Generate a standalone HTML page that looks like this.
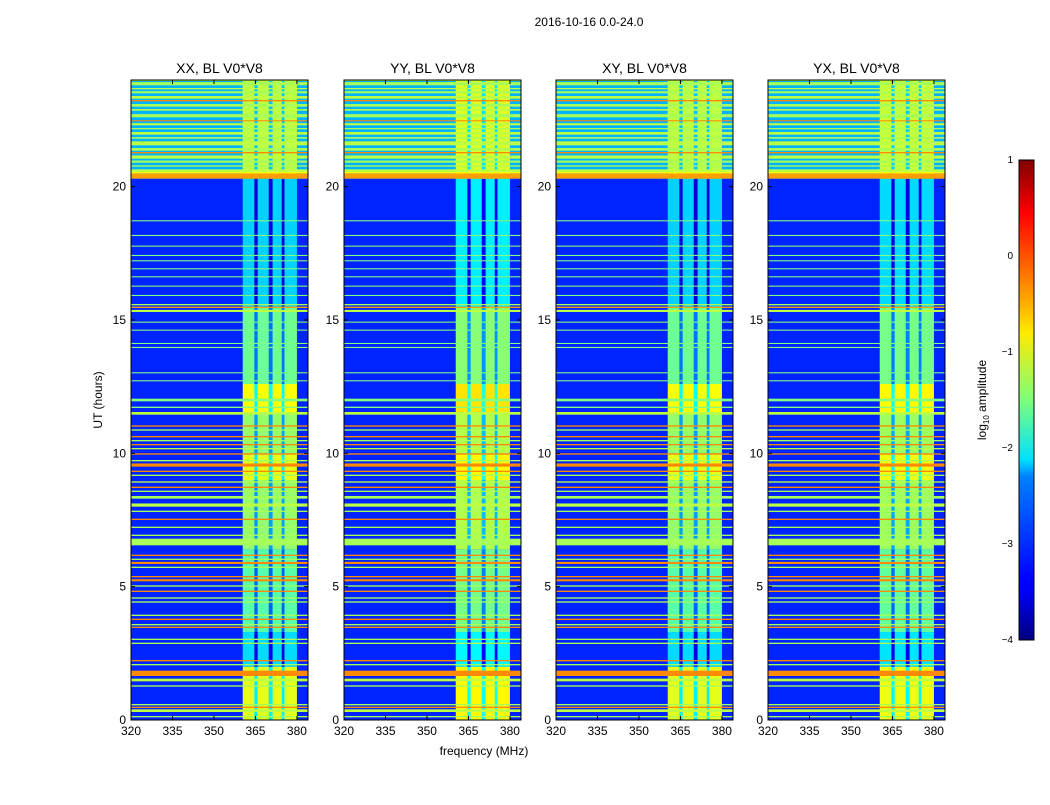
<!DOCTYPE html>
<html><head><meta charset="utf-8"><style>
body{margin:0;background:#fff;font-family:"Liberation Sans",sans-serif}
svg text{font-family:"Liberation Sans",sans-serif}
</style></head><body>
<svg id="fig" width="1050" height="800" viewBox="0 0 1050 800" xmlns="http://www.w3.org/2000/svg">
<text x="589" y="26" font-size="12" text-anchor="middle">2016-10-16 0.0-24.0</text>
<text x="484" y="755" font-size="12" text-anchor="middle">frequency (MHz)</text>
<text transform="translate(102,400) rotate(-90)" font-size="12" text-anchor="middle">UT (hours)</text>
<defs><linearGradient id="jet" x1="0" y1="1" x2="0" y2="0">
<stop offset="0" stop-color="#000080"/><stop offset="0.11" stop-color="#0000ff"/><stop offset="0.125" stop-color="#0000ff"/><stop offset="0.34" stop-color="#0080ff"/><stop offset="0.375" stop-color="#00e0ff"/><stop offset="0.5" stop-color="#7dff7a"/><stop offset="0.64" stop-color="#ffea00"/><stop offset="0.75" stop-color="#ff8000"/><stop offset="0.89" stop-color="#ff0000"/><stop offset="1" stop-color="#800000"/></linearGradient></defs>
<g id="panels"></g>
<rect x="1019" y="160" width="15" height="480" fill="url(#jet)" stroke="#000" stroke-width="1"/>
<g id="cbticks" font-size="10"></g>
<text transform="translate(986,400) rotate(-90)" font-size="12" text-anchor="middle">log<tspan font-size="8" dy="3">10</tspan><tspan dy="-3"> amplitude</tspan></text>
</svg>
<script>
const panelTitles=["XX, BL V0*V8","YY, BL V0*V8","XY, BL V0*V8","YX, BL V0*V8"];
const panelBandOffset=[0,0.15,0,0.05];
const xTicks=[320,335,350,365,380];
const yTicks=[0,5,10,15,20];
const cbTicks=[1,0,-1,-2,-3,-4];
const baseValue=-3.2;
const topRegion=[20.3,24,-2.5];
const bandFreq=[360.4,380];
const bandGaps=[[364.6,365.8],[369.8,371.2],[374.5,375.5]];
const bandSegT0=[0,2.0,3.3,6.4,9.0,10.0,11.5,12.6,15.5,20.3];
const bandSegT1=[2.0,3.3,6.4,9.0,10.0,11.5,12.6,15.5,20.3,24];
const bandSegV=[-1.0,-2.3,-1.7,-1.4,-1.0,-1.4,-0.9,-1.6,-2.35,-1.2];
const lineT=[20.3,20.5,20.55,20.75,20.9,21.05,21.25,21.35,21.55,21.8,21.95,22.15,22.3,22.45,22.6,22.85,23.0,23.2,23.3,23.5,23.65,23.8,23.97,
18.7,18.15,17.75,17.4,17.2,16.9,16.6,16.25,15.9,15.3,15.45,15.55,14.9,14.6,14.1,13.95,13.0,12.7,11.95,11.7,11.45,
11.0,10.85,10.6,10.45,10.3,10.15,9.95,9.7,9.5,9.3,9.15,8.9,8.7,8.55,8.3,8.0,7.8,7.5,7.2,6.9,6.55,6.15,6.0,5.85,5.7,5.35,5.2,5.0,4.8,4.55,4.4,3.9,3.75,3.55,3.45,3.0,2.85,2.2,2.05,1.65,1.45,1.25,0.55,0.45,0.3,0.1];
const lineDT=[0.2,0.08,0.1,0.05,0.08,0.12,0.05,0.1,0.15,0.06,0.1,0.05,0.08,0.04,0.12,0.06,0.1,0.05,0.1,0.08,0.05,0.12,0.03,
0.04,0.04,0.04,0.04,0.04,0.04,0.04,0.04,0.04,0.08,0.05,0.05,0.04,0.04,0.04,0.04,0.04,0.04,0.1,0.05,0.1,
0.05,0.05,0.05,0.05,0.05,0.05,0.05,0.05,0.12,0.05,0.05,0.05,0.05,0.05,0.1,0.12,0.05,0.05,0.05,0.05,0.25,0.05,0.05,0.08,0.05,0.05,0.08,0.05,0.05,0.05,0.05,0.05,0.05,0.05,0.05,0.05,0.05,0.05,0.05,0.2,0.1,0.05,0.05,0.05,0.1,0.05];
const lineV=[-0.4,-0.9,-1.2,-1.3,-1.3,-1.2,-0.3,-1.3,-1.2,-1.3,-1.2,-1.3,-1.2,-0.3,-1.3,-1.2,-1.3,-0.3,-1.2,-1.3,-1.2,-1.3,-1.2,
-1.5,-1.5,-1.5,-1.5,-1.5,-1.5,-1.5,-1.5,-1.5,-1.2,-0.4,-1.3,-1.5,-1.5,-1.5,-1.5,-1.5,-1.5,-1.5,-1.5,-1.2,
-0.3,-1.3,-0.3,-1.3,-0.3,-1.2,-0.3,-1.3,-0.3,-0.3,-1.3,-1.2,-0.3,-1.3,-1.3,-1.2,-1.3,-0.3,-1.3,-1.3,-1.3,-0.3,-1.3,-0.3,-1.3,-0.3,-0.3,-1.3,-0.3,-1.3,-1.3,-1.3,-0.3,-1.3,-0.3,-1.3,-1.3,-0.3,-1.3,-0.3,-1.2,-1.3,-1.3,-0.3,-1.2,-1.3];

const NS="http://www.w3.org/2000/svg";
const lefts=[131,344,556,768],PW=177,TOP=80,PH=640,FMIN=320,FMAX=384,TMAX=24,VMIN=-4,VMAX=1;
function jet(v){let t=(v-VMIN)/(VMAX-VMIN);t=Math.max(0,Math.min(1,t));
 const c=x=>Math.round(255*Math.max(0,Math.min(1,x)));
 return `rgb(${c(1.5-Math.abs(4*t-3))},${c(1.5-Math.abs(4*t-2))},${c(1.5-Math.abs(4*t-1))})`;}
function mk(tag,attrs,parent){const e=document.createElementNS(NS,tag);for(const k in attrs)e.setAttribute(k,attrs[k]);parent.appendChild(e);return e;}
const root=document.getElementById('panels');
lefts.forEach((L,p)=>{
 const xs=f=>L+(f-FMIN)/(FMAX-FMIN)*PW, ys=t=>TOP+PH-(t/TMAX)*PH;
 const g=mk('g',{},root);
 
 
 const bg=mk('rect',{x:L,y:TOP,width:PW,height:PH,fill:jet(baseValue)},g);
 
 
 const tr=mk('rect',{x:L,y:ys(topRegion[1]),width:PW,height:ys(topRegion[0])-ys(topRegion[1]),fill:jet(topRegion[2])},g);
 
 
 bandSegT0.forEach((t0,i)=>{
  const v=bandSegV[i]+panelBandOffset[p];
  const r=mk('rect',{x:xs(bandFreq[0]),y:ys(bandSegT1[i]),width:xs(bandFreq[1])-xs(bandFreq[0]),height:ys(t0)-ys(bandSegT1[i]),fill:jet(v)},g);
  
  
  bandGaps.forEach(gp=>{
   const q=mk('rect',{x:xs(gp[0]),y:ys(bandSegT1[i]),width:xs(gp[1])-xs(gp[0]),height:ys(t0)-ys(bandSegT1[i]),fill:jet(v-1.2)},g);
   
   
  });
 });
 lineT.forEach((t,i)=>{
  const h=Math.max(1,ys(t)-ys(t+lineDT[i]));
  const r=mk('rect',{x:L,y:ys(t+lineDT[i]),width:PW,height:h,fill:jet(lineV[i])},g);
  
  
 });
 const fr=mk('rect',{x:L,y:TOP,width:PW,height:PH,fill:'none',stroke:'#000','stroke-width':1},g);
 
 
 const ti=mk('text',{x:L+PW/2,y:TOP-7,'font-size':14,'text-anchor':'middle'},g);ti.textContent=panelTitles[p];
 
 
 xTicks.forEach(f=>{
  mk('line',{x1:xs(f),x2:xs(f),y1:TOP+PH,y2:TOP+PH-4,stroke:'#000'},g);
  mk('line',{x1:xs(f),x2:xs(f),y1:TOP,y2:TOP+4,stroke:'#000'},g);
  const t=mk('text',{x:xs(f),y:TOP+PH+15,'font-size':12,'text-anchor':'middle'},g);t.textContent=f;
  
  
 });
 yTicks.forEach(v=>{
  mk('line',{x1:L,x2:L+4,y1:ys(v),y2:ys(v),stroke:'#000'},g);
  mk('line',{x1:L+PW,x2:L+PW-4,y1:ys(v),y2:ys(v),stroke:'#000'},g);
  const t=mk('text',{x:L-5,y:ys(v)+4,'font-size':12,'text-anchor':'end'},g);t.textContent=v;
  
  
 });
});
const cb=document.getElementById('cbticks');
cbTicks.forEach(v=>{
 const y=160+(VMAX-v)/(VMAX-VMIN)*480;
 const t=mk('text',{x:1013,y:y+3,'text-anchor':'end'},cb);t.textContent=v<0?'\u2212'+(-v):v;
 
 
});
</script>
</body></html>
